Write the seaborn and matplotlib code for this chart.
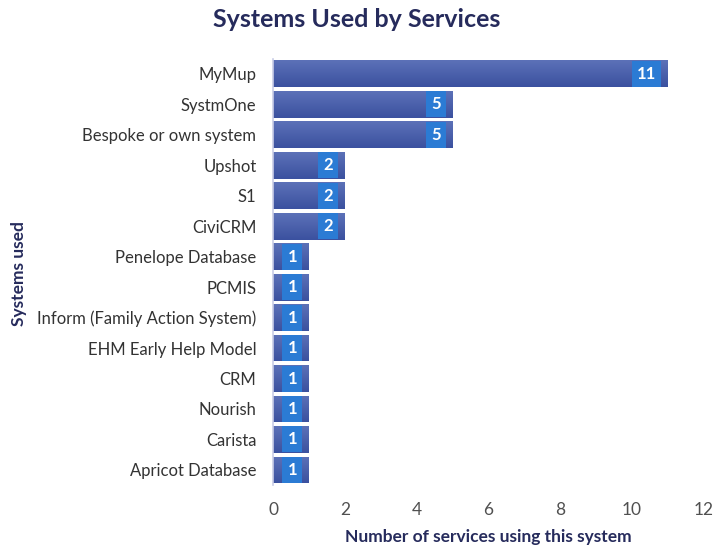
import numpy as np
import pandas as pd
import matplotlib
matplotlib.use("Agg")
import matplotlib.pyplot as plt
import seaborn as sns

systems = ["MyMup", "SystmOne", "Bespoke or own system", "Upshot", "S1", "CiviCRM",
           "Penelope Database", "PCMIS", "Inform (Family Action System)",
           "EHM Early Help Model", "CRM", "Nourish", "Carista", "Apricot Database"]
counts = [11, 5, 5, 2, 2, 2, 1, 1, 1, 1, 1, 1, 1, 1]
x_ticks = [0, 2, 4, 6, 8, 10, 12]

df = pd.DataFrame({"system": systems, "count": counts})

sns.set_theme(style="white")
plt.rcParams["font.family"] = ["Lato", "DejaVu Sans"]

navy = "#262b5c"
fig = plt.figure(figsize=(7.13, 5.47), dpi=100)
ax = fig.add_axes([0.383, 0.113, 0.604, 0.78])

sns.barplot(data=df, y="system", x="count", orient="h", color="#4a5fab",
            width=0.88, saturation=1, ax=ax)

# vertical gradient fill on each bar
grad = np.linspace(0, 1, 64).reshape(-1, 1)
cmap = matplotlib.colors.LinearSegmentedColormap.from_list("bar", ["#5c71b8", "#3b519f"])
for p in ax.patches:
    x0, y0 = p.get_x(), p.get_y()
    w, h = p.get_width(), p.get_height()
    im = ax.imshow(grad, cmap=cmap, aspect="auto", extent=(x0, x0 + w, y0 + h, y0),
                   zorder=p.get_zorder() + 0.1, interpolation="bilinear")
    im.set_clip_path(p)
    p.set_edgecolor("none")

# value labels in boxes just inside the bar ends
for i, v in enumerate(counts):
    ax.text(v - 0.33, i, str(v), ha="right", va="center", color="white",
            fontsize=12, fontweight="bold", zorder=5,
            bbox=dict(boxstyle="square,pad=0.3", fc="#2b7bd4", ec="none"))

ax.set_xlim(0, 12)
ax.set_ylim(len(systems) - 0.5, -0.5)
ax.set_xticks(x_ticks)
ax.set_xticklabels([str(t) for t in x_ticks], fontsize=12.5, color="#505050")
ax.tick_params(axis="y", labelsize=12, labelcolor="#333333", length=0, pad=12)
ax.tick_params(axis="x", length=0, pad=12)
for s in ["top", "right", "bottom"]:
    ax.spines[s].set_visible(False)
ax.spines["left"].set_color("#c9cde6")
ax.spines["left"].set_linewidth(1.2)

ax.set_xlabel("Number of services using this system", fontsize=12.5, fontweight="bold",
              color=navy, labelpad=8)
ax.set_ylabel("")
fig.text(0.027, 0.5, "Systems used", rotation=90, ha="center", va="center",
         fontsize=12.5, fontweight="bold", color=navy)
fig.text(0.5, 0.965, "Systems Used by Services", ha="center", va="center",
         fontsize=18, fontweight="bold", color=navy)

fig.savefig("out.png", dpi=100)
